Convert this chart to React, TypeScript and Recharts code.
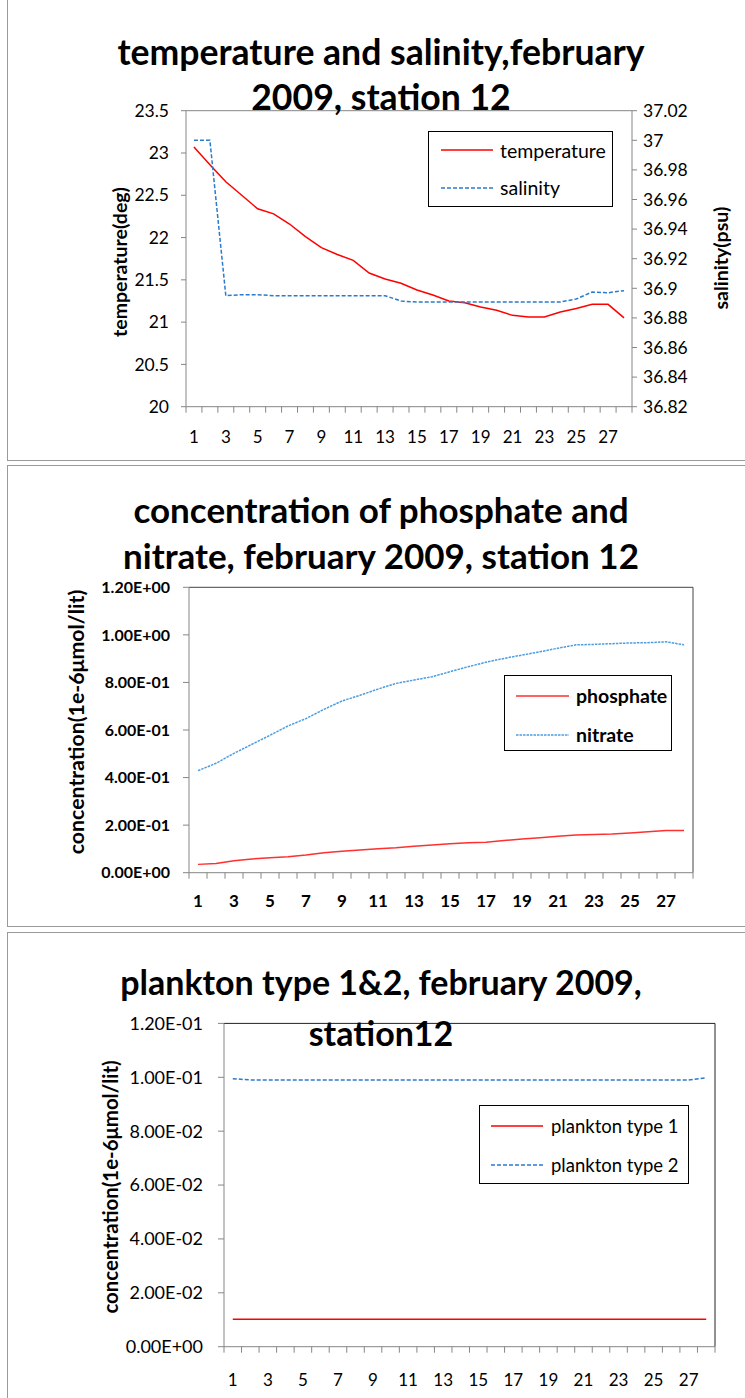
import React from 'react';
import { LineChart, Line, XAxis, YAxis, Legend, ReferenceLine } from 'recharts';

// days (x categories) and the odd labels Excel shows
const days = [1, 2, 3, 4, 5, 6, 7, 8, 9, 10, 11, 12, 13, 14, 15, 16, 17, 18, 19, 20, 21, 22, 23, 24, 25, 26, 27, 28];
const dayLabels = [1, 3, 5, 7, 9, 11, 13, 15, 17, 19, 21, 23, 25, 27];

// chart 1
const temperature = [23.07, 22.86, 22.66, 22.5, 22.34, 22.28, 22.16, 22.01, 21.88, 21.8, 21.73, 21.58, 21.51, 21.46, 21.38, 21.32, 21.25, 21.23, 21.18, 21.14, 21.08, 21.06, 21.06, 21.12, 21.16, 21.21, 21.21, 21.05];
const salinity = [37.0, 37.0, 36.895, 36.8957, 36.8957, 36.895, 36.895, 36.895, 36.895, 36.895, 36.895, 36.895, 36.895, 36.8914, 36.8907, 36.8907, 36.8907, 36.8907, 36.8907, 36.8907, 36.8907, 36.8907, 36.8907, 36.8907, 36.8928, 36.8975, 36.897, 36.8984];
const tempTicks = [20, 20.5, 21, 21.5, 22, 22.5, 23, 23.5];
const salinityTicks = [36.82, 36.84, 36.86, 36.88, 36.9, 36.92, 36.94, 36.96, 36.98, 37, 37.02];

// chart 2
const phosphate = [0.035, 0.039, 0.05, 0.058, 0.063, 0.067, 0.074, 0.084, 0.09, 0.095, 0.101, 0.105, 0.111, 0.116, 0.122, 0.126, 0.128, 0.135, 0.142, 0.147, 0.153, 0.158, 0.161, 0.163, 0.167, 0.172, 0.177, 0.177];
const nitrate = [0.429, 0.46, 0.502, 0.54, 0.578, 0.617, 0.648, 0.687, 0.722, 0.746, 0.772, 0.796, 0.81, 0.824, 0.845, 0.866, 0.885, 0.901, 0.915, 0.929, 0.944, 0.958, 0.96, 0.963, 0.966, 0.967, 0.971, 0.958];
const nutrientTicks = [0, 0.2, 0.4, 0.6, 0.8, 1, 1.2];

// chart 3
const plankton1 = [0.0102, 0.0102, 0.0102, 0.0102, 0.0102, 0.0102, 0.0102, 0.0102, 0.0102, 0.0102, 0.0102, 0.0102, 0.0102, 0.0102, 0.0102, 0.0102, 0.0102, 0.0102, 0.0102, 0.0102, 0.0102, 0.0102, 0.0102, 0.0102, 0.0102, 0.0102, 0.0102, 0.0102];
const plankton2 = [0.0995, 0.099, 0.099, 0.099, 0.099, 0.099, 0.099, 0.099, 0.099, 0.099, 0.099, 0.099, 0.099, 0.099, 0.099, 0.099, 0.099, 0.099, 0.099, 0.099, 0.099, 0.099, 0.099, 0.099, 0.099, 0.099, 0.099, 0.0998];
const planktonTicks = [0, 0.02, 0.04, 0.06, 0.08, 0.1, 0.12];

const FONT = 'Lato, "Liberation Sans", sans-serif';
const AXIS_GRAY = '#868686';
const RED = '#ff0000';
const BLUE = '#2b7bcb';

const tsData = days.map((d, i) => ({ day: d, temperature: temperature[i], salinity: salinity[i] }));
const nutData = days.map((d, i) => ({ day: d, phosphate: phosphate[i], nitrate: nitrate[i] }));
const plkData = days.map((d, i) => ({ day: d, p1: plankton1[i], p2: plankton2[i] }));

// tick slots: category boundaries get tick marks, centres get labels
const xSlots = days.flatMap((d) => [d - 0.5, d]).concat(days[days.length - 1] + 0.5);
const xDomain = [days[0] - 0.5, days[days.length - 1] + 0.5];

const sci = (v: number) => {
  const [m, e] = v.toExponential(2).split('e');
  return `${m}E${e[0]}${e.slice(1).padStart(2, '0')}`;
};

function makeXTick(dy: number, fontSize: number, bold: boolean) {
  return (props: any) => {
    const { x, y, payload } = props;
    const v = payload.value;
    if (!Number.isInteger(v)) {
      return <line x1={x} x2={x} y1={y - 6} y2={y} stroke={AXIS_GRAY} />;
    }
    if (!dayLabels.includes(v)) return <g />;
    return (
      <text x={x} y={y + dy} textAnchor="middle" dominantBaseline="central" fontFamily={FONT}
        fontSize={fontSize} fontWeight={bold ? 700 : 400} fill="#000">{v}</text>
    );
  };
}

function makeLegend(order: string[], box: React.CSSProperties, rowH: number, padL: number, lineW: number, gap: number, fontSize: number, bold: boolean) {
  return (props: any) => {
    const payload = props.payload || [];
    const items = order.map((n) => payload.find((p: any) => p.value === n)).filter(Boolean);
    return (
      <div style={{ ...box, border: '1.5px solid #000', background: '#fff', boxSizing: 'border-box' }}>
        {items.map((it: any) => (
          <div key={it.value} style={{ display: 'flex', alignItems: 'center', height: rowH, paddingLeft: padL }}>
            <svg width={lineW} height={4} style={{ marginRight: gap }}>
              <line x1={0} x2={lineW} y1={2} y2={2} stroke={it.color} strokeWidth={1.6}
                strokeDasharray={it.payload?.strokeDasharray} />
            </svg>
            <span style={{ fontFamily: FONT, fontSize, fontWeight: bold ? 700 : 400, color: '#000', whiteSpace: 'nowrap' }}>{it.value}</span>
          </div>
        ))}
      </div>
    );
  };
}

const titleStyle = (top: number, size: number): React.CSSProperties => ({
  position: 'absolute', left: 0, width: 762, top, textAlign: 'center', fontFamily: FONT,
  fontWeight: 700, fontSize: size, lineHeight: `${size * 1.2}px`, whiteSpace: 'nowrap', color: '#000',
});

const vLabel = (cx: number, cy: number, size: number): React.CSSProperties => ({
  position: 'absolute', left: cx, top: cy, transform: 'translate(-50%, -50%) rotate(-90deg)',
  fontFamily: FONT, fontWeight: 700, fontSize: size, whiteSpace: 'nowrap', color: '#000',
});

const panel = (top: number, height: number): React.CSSProperties => ({
  position: 'absolute', left: 7, top, width: 760, height, border: '1px solid #9a9a9a', boxSizing: 'border-box',
});

const tickFont = (size: number, bold = false) => ({ fontSize: size, fontFamily: FONT, fill: '#000', fontWeight: bold ? 700 : 400 });

export default function App() {
  return (
    <div style={{ position: 'absolute', left: 0, top: 0, width: 745, height: 1398, overflow: 'hidden', background: '#fff' }}>
      <div style={panel(-1, 462)} />
      <div style={panel(465, 462)} />
      <div style={panel(932, 480)} />

      {/* chart 1 */}
      <div style={{ position: 'absolute', left: 0, top: 0 }}>
        <LineChart width={745} height={462} data={tsData} margin={{ top: 110.7, bottom: 15.3, left: 106, right: 33 }}>
          <XAxis type="number" dataKey="day" domain={xDomain} ticks={xSlots} interval={0} height={40}
            tickSize={6} tickMargin={0} tickLine={false} axisLine={{ stroke: AXIS_GRAY }} tick={makeXTick(24, 17, false)} />
          <YAxis yAxisId="left" domain={[20, 23.5]} ticks={tempTicks} interval={0} width={80} tickSize={5} tickMargin={12}
            axisLine={{ stroke: AXIS_GRAY }} tickLine={{ stroke: AXIS_GRAY }} tick={tickFont(17.5)} />
          <YAxis yAxisId="right" orientation="right" domain={[36.82, 37.02]} ticks={salinityTicks} interval={0} width={80}
            tickSize={5} tickMargin={6} axisLine={{ stroke: AXIS_GRAY }} tickLine={{ stroke: AXIS_GRAY }} tick={tickFont(17.5)} />
          <ReferenceLine yAxisId="left" y={23.5} stroke={AXIS_GRAY} />
          <Line yAxisId="left" type="linear" dataKey="temperature" name="temperature" stroke={RED} strokeWidth={1.5} dot={false} isAnimationActive={false} />
          <Line yAxisId="right" type="linear" dataKey="salinity" name="salinity" stroke={BLUE} strokeWidth={1.5} strokeDasharray="4 2" dot={false} isAnimationActive={false} />
          <Legend layout="vertical" align="center" verticalAlign="middle"
            wrapperStyle={{ left: 428, top: 130.7, width: 185, height: 76 }}
            content={makeLegend(['temperature', 'salinity'], { width: 185, height: 76 }, 37.5, 12, 52, 7, 19.5, false)} />
        </LineChart>
      </div>
      <div style={titleStyle(31, 35.6)}>temperature and salinity,february</div>
      <div style={titleStyle(76, 35.6)}>2009, station 12</div>
      <div style={vLabel(119, 262, 19.5)}>temperature(deg)</div>
      <div style={vLabel(720, 258, 19.5)}>salinity(psu)</div>

      {/* chart 2 */}
      <div style={{ position: 'absolute', left: 0, top: 462 }}>
        <LineChart width={745} height={466} data={nutData} margin={{ top: 125.3, bottom: 15.3, left: 79, right: 52 }}>
          <XAxis type="number" dataKey="day" domain={xDomain} ticks={xSlots} interval={0} height={40}
            tickSize={6} tickMargin={0} tickLine={false} axisLine={{ stroke: AXIS_GRAY }} tick={makeXTick(22, 17, true)} />
          <YAxis domain={[0, 1.2]} ticks={nutrientTicks} interval={0} width={110} tickSize={6} tickMargin={13}
            tickFormatter={sci} axisLine={{ stroke: AXIS_GRAY }} tickLine={{ stroke: AXIS_GRAY }} tick={tickFont(16, true)} />
          <ReferenceLine y={1.2} stroke="#444" />
          <ReferenceLine x={28.5} stroke="#444" />
          <Line type="linear" dataKey="phosphate" name="phosphate" stroke="#ff3030" strokeWidth={1.5} dot={false} isAnimationActive={false} />
          <Line type="linear" dataKey="nitrate" name="nitrate" stroke="#4d9de0" strokeWidth={1.5} strokeDasharray="2.5 1" dot={false} isAnimationActive={false} />
          <Legend layout="vertical" align="center" verticalAlign="middle"
            wrapperStyle={{ left: 504, top: 213, width: 168, height: 76 }}
            content={makeLegend(['phosphate', 'nitrate'], { width: 168, height: 76 }, 39, 11, 53, 7, 19.5, true)} />
        </LineChart>
      </div>
      <div style={titleStyle(488, 35)}>concentration of phosphate and</div>
      <div style={titleStyle(534, 35)}>nitrate, february 2009, station 12</div>
      <div style={vLabel(76, 722, 21.3)}>concentration(1e-6μmol/lit)</div>

      {/* chart 3 */}
      <div style={{ position: 'absolute', left: 0, top: 928 }}>
        <LineChart width={745} height={470} data={plkData} margin={{ top: 95.4, bottom: 11.3, left: 114, right: 30 }}>
          <XAxis type="number" dataKey="day" domain={xDomain} ticks={xSlots} interval={0} height={40}
            tickSize={6} tickMargin={0} tickLine={false} axisLine={{ stroke: AXIS_GRAY }} tick={makeXTick(27, 17, false)} />
          <YAxis domain={[0, 0.12]} ticks={planktonTicks} interval={0} width={110} tickSize={6} tickMargin={15}
            tickFormatter={sci} axisLine={{ stroke: AXIS_GRAY }} tickLine={{ stroke: AXIS_GRAY }} tick={tickFont(18)} />
          <ReferenceLine y={0.12} stroke="#222" />
          <ReferenceLine x={28.5} stroke="#222" />
          <Line type="linear" dataKey="p1" name="plankton type 1" stroke={RED} strokeWidth={1.5} dot={false} isAnimationActive={false} />
          <Line type="linear" dataKey="p2" name="plankton type 2" stroke={BLUE} strokeWidth={1.5} strokeDasharray="4 2" dot={false} isAnimationActive={false} />
          <Legend layout="vertical" align="center" verticalAlign="middle"
            wrapperStyle={{ left: 479, top: 177, width: 210, height: 79 }}
            content={makeLegend(['plankton type 1', 'plankton type 2'], { width: 210, height: 79 }, 39, 11, 52, 8, 18.5, false)} />
        </LineChart>
      </div>
      <div style={titleStyle(962, 34)}>plankton type 1&amp;2, february 2009,</div>
      <div style={titleStyle(1013, 34)}>station12</div>
      <div style={vLabel(110, 1187, 20.4)}>concentration(1e-6μmol/lit)</div>
    </div>
  );
}
